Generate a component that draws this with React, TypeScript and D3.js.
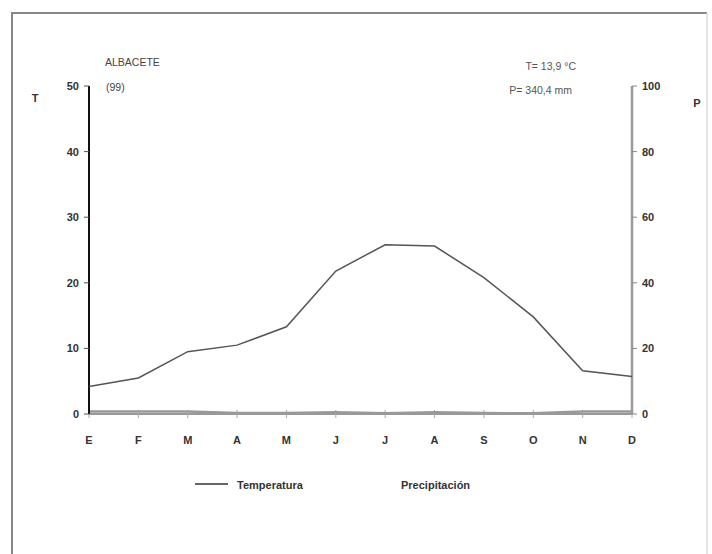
import { useRef, useEffect } from 'react';
import * as d3 from 'd3';

const months = ['E', 'F', 'M', 'A', 'M2', 'J', 'J2', 'A2', 'S', 'O', 'N', 'D'];
const monthLabels = ['E', 'F', 'M', 'A', 'M', 'J', 'J', 'A', 'S', 'O', 'N', 'D'];
const temperature = [4.2, 5.5, 9.5, 10.5, 13.3, 21.8, 25.8, 25.6, 20.8, 14.8, 6.6, 5.7];
const precipitation = [0.8, 0.8, 0.8, 0.3, 0.3, 0.5, 0.2, 0.5, 0.3, 0.2, 0.8, 0.8];
const tTicks = [0, 10, 20, 30, 40, 50];
const pTicks = [0, 20, 40, 60, 80, 100];

export default function App() {
  const svgRef = useRef<SVGSVGElement>(null);
  const width = 712, height = 554;

  useEffect(() => {
    const svg = d3.select(svgRef.current);
    svg.selectAll('*').remove();
    const font = 'Liberation Sans, Arial, sans-serif';

    const x = d3.scalePoint<string>().domain(months).range([89, 632]);
    const yT = d3.scaleLinear().domain([0, 50]).range([414, 86]);
    const yP = d3.scaleLinear().domain([0, 100]).range([414, 86]);

    // frame: left + top darker, right side faint
    svg.append('path').attr('d', `M12,554 L12,13 L707,13`)
      .attr('fill', 'none').attr('stroke', '#888').attr('stroke-width', 2);
    svg.append('line').attr('x1', 707).attr('x2', 707).attr('y1', 13).attr('y2', 554)
      .attr('stroke', '#ddd').attr('stroke-width', 1.5);

    // x axis
    svg.append('line').attr('x1', 89).attr('x2', 632).attr('y1', 414).attr('y2', 414)
      .attr('stroke', '#777').attr('stroke-width', 1.5);
    months.forEach((m, i) => {
      svg.append('line').attr('x1', x(m)!).attr('x2', x(m)!).attr('y1', 410).attr('y2', 418)
        .attr('stroke', '#aaa').attr('stroke-width', 1);
      svg.append('text').attr('x', x(m)!).attr('y', 444).attr('text-anchor', 'middle')
        .attr('font-family', font).attr('font-size', 11).attr('font-weight', 'bold').attr('fill', '#333')
        .text(monthLabels[i]);
    });

    // precipitation (near zero)
    svg.append('path').datum(precipitation)
      .attr('d', d3.line<number>().x((_, i) => x(months[i])!).y((d) => yP(d)))
      .attr('fill', 'none').attr('stroke', '#999').attr('stroke-width', 2.5);

    // left axis
    svg.append('line').attr('x1', 89).attr('x2', 89).attr('y1', 86).attr('y2', 414)
      .attr('stroke', '#111').attr('stroke-width', 2);
    tTicks.forEach((t) => {
      svg.append('line').attr('x1', 84).attr('x2', 89).attr('y1', yT(t)).attr('y2', yT(t))
        .attr('stroke', '#555').attr('stroke-width', 1);
      svg.append('text').attr('x', 79).attr('y', yT(t) + 4).attr('text-anchor', 'end')
        .attr('font-family', font).attr('font-size', 11).attr('font-weight', 'bold').attr('fill', '#333')
        .text(t);
    });
    svg.append('text').attr('x', 35).attr('y', 102).attr('text-anchor', 'middle')
      .attr('font-family', font).attr('font-size', 11).attr('font-weight', 'bold').attr('fill', '#333').text('T');

    // right axis
    svg.append('line').attr('x1', 632).attr('x2', 632).attr('y1', 86).attr('y2', 414)
      .attr('stroke', '#999').attr('stroke-width', 2.5);
    pTicks.forEach((p) => {
      svg.append('line').attr('x1', 632).attr('x2', 637).attr('y1', yP(p)).attr('y2', yP(p))
        .attr('stroke', '#888').attr('stroke-width', 1);
      svg.append('text').attr('x', 642).attr('y', yP(p) + 4).attr('text-anchor', 'start')
        .attr('font-family', font).attr('font-size', 11).attr('font-weight', 'bold').attr('fill', '#333')
        .text(p);
    });
    svg.append('text').attr('x', 697).attr('y', 107).attr('text-anchor', 'middle')
      .attr('font-family', font).attr('font-size', 11).attr('font-weight', 'bold').attr('fill', '#333').text('P');

    // temperature line
    svg.append('path').datum(temperature)
      .attr('d', d3.line<number>().x((_, i) => x(months[i])!).y((d) => yT(d)))
      .attr('fill', 'none').attr('stroke', '#555').attr('stroke-width', 1.5);

    // titles
    svg.append('text').attr('x', 105).attr('y', 66).attr('font-family', font).attr('font-size', 10.5)
      .attr('fill', '#444').text('ALBACETE');
    svg.append('text').attr('x', 106).attr('y', 91).attr('font-family', font).attr('font-size', 10.5)
      .attr('fill', '#444').text('(99)');
    svg.append('text').attr('x', 576).attr('y', 70).attr('text-anchor', 'end').attr('font-family', font)
      .attr('font-size', 10.5).attr('fill', '#555').text('T= 13,9 °C');
    svg.append('text').attr('x', 572).attr('y', 94).attr('text-anchor', 'end').attr('font-family', font)
      .attr('font-size', 10.5).attr('fill', '#555').text('P= 340,4 mm');

    // legend
    svg.append('line').attr('x1', 195).attr('x2', 228).attr('y1', 484).attr('y2', 484)
      .attr('stroke', '#333').attr('stroke-width', 1.5);
    svg.append('text').attr('x', 237).attr('y', 489).attr('font-family', font).attr('font-size', 11)
      .attr('font-weight', 'bold').attr('fill', '#333').text('Temperatura');
    svg.append('text').attr('x', 401).attr('y', 489).attr('font-family', font).attr('font-size', 11)
      .attr('font-weight', 'bold').attr('fill', '#333').text('Precipitación');
  }, []);

  return (
    <svg ref={svgRef} width={width} height={height}
      style={{ position: 'absolute', left: 0, top: 0, background: '#fff', display: 'block' }} />
  );
}
